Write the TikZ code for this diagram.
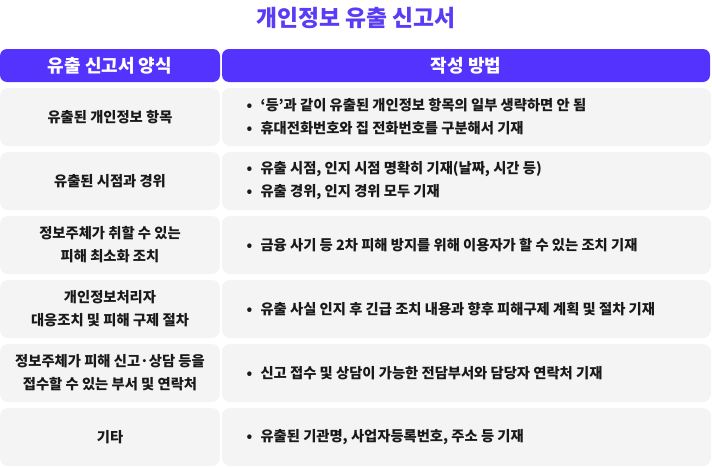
\documentclass[tikz,border=0pt]{standalone}
\usepackage{fontspec}
\setmainfont{Noto Sans CJK KR}
\definecolor{hdr}{HTML}{5533FF}
\definecolor{ttl}{HTML}{5A3BF6}
\definecolor{rowbg}{HTML}{F4F4F4}
\definecolor{txt}{HTML}{1A1A1A}
\tikzset{
  hbox/.style={fill=hdr,rounded corners=7pt,draw=none},
  rbox/.style={fill=rowbg,rounded corners=8pt,draw=none},
  htext/.style={text=white,font=\bfseries\fontsize{18}{20}\selectfont},
  ltext/.style={text=txt,font=\bfseries\fontsize{14.3}{23}\selectfont,align=center},
  btext/.style={text=txt,font=\bfseries\fontsize{14.3}{23}\selectfont,align=left,anchor=west},
}
\newcommand{\bl}{\makebox[14pt][l]{\bfseries •}}
\begin{document}
\begin{tikzpicture}[x=1pt,y=-1pt]
\useasboundingbox (0,0) rectangle (712,466);
\node[text=ttl,font=\bfseries\fontsize{22.8}{24}\selectfont] (title) at (356,18) {개인정보 유출 신고서};
% header
\path[hbox] (0,49) rectangle (220,82);
\path[hbox] (222,49) rectangle (710,82);
\node[htext] (h1) at (110,65.5) {유출 신고서 양식};
\node[htext] (h2) at (466,65.5) {작성 방법};
% rows
\foreach \k in {0,...,5}{
  \path[rbox] (0,88+64*\k) rectangle (220,146+64*\k);
  \path[rbox] (222,88+64*\k) rectangle (711,146+64*\k);
}
\node[ltext] (l1) at (110,117) {유출된 개인정보 항목};
\node[ltext] (l2) at (110,181) {유출된 시점과 경위};
\node[ltext] (l3) at (110,245) {정보주체가 취할 수 있는\\피해 최소화 조치};
\node[ltext] (l4) at (110,309) {개인정보처리자\\대응조치 및 피해 구제 절차};
\node[ltext] (l5) at (110,373) {정보주체가 피해 신고·상담 등을\\접수할 수 있는 부서 및 연락처};
\node[ltext] (l6) at (110,437) {기타};
\node[btext] (r1) at (243,117) {\bl{}‘등’과 같이 유출된 개인정보 항목의 일부 생략하면 안 됨\\\bl{}휴대전화번호와 집 전화번호를 구분해서 기재};
\node[btext] (r2) at (243,181) {\bl{}유출 시점, 인지 시점 명확히 기재(날짜, 시간 등)\\\bl{}유출 경위, 인지 경위 모두 기재};
\node[btext] (r3) at (243,245) {\bl{}금융 사기 등 2차 피해 방지를 위해 이용자가 할 수 있는 조치 기재};
\node[btext] (r4) at (243,309) {\bl{}유출 사실 인지 후 긴급 조치 내용과 향후 피해구제 계획 및 절차 기재};
\node[btext] (r5) at (243,373) {\bl{}신고 접수 및 상담이 가능한 전담부서와 담당자 연락처 기재};
\node[btext] (r6) at (243,437) {\bl{}유출된 기관명, 사업자등록번호, 주소 등 기재};
\end{tikzpicture}
\end{document}
